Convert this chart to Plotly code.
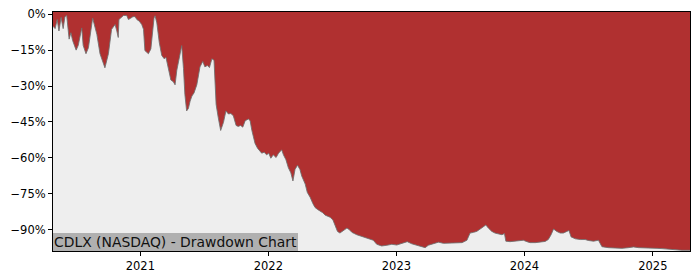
import plotly.graph_objects as go

# Drawdown series
dates = [
    "2020-04-27","2020-05-03","2020-05-09","2020-05-14","2020-05-20","2020-05-26","2020-05-31","2020-06-05","2020-06-12","2020-06-17",
    "2020-06-22","2020-07-02","2020-07-08","2020-07-13","2020-07-18","2020-07-22","2020-07-30","2020-08-06","2020-08-13","2020-08-18",
    "2020-08-30","2020-09-08","2020-09-22","2020-10-02","2020-10-11","2020-10-21","2020-10-26","2020-10-30","2020-11-01","2020-11-09",
    "2020-11-14","2020-11-23","2020-11-28","2020-12-05","2020-12-11","2020-12-17","2020-12-22","2020-12-29","2021-01-05","2021-01-10",
    "2021-01-14","2021-01-24","2021-01-31",
    "2021-02-09","2021-02-12","2021-02-17","2021-02-24","2021-03-03","2021-03-10","2021-03-15","2021-03-22","2021-03-29","2021-04-05",
    "2021-04-10","2021-04-15","2021-04-19","2021-04-26","2021-04-29","2021-05-04","2021-05-08","2021-05-13","2021-05-18","2021-05-23",
    "2021-05-28","2021-06-03","2021-06-11","2021-06-20","2021-06-28","2021-07-04","2021-07-11","2021-07-17","2021-07-24","2021-07-30",
    "2021-08-05","2021-08-11","2021-08-18","2021-08-26","2021-09-02","2021-09-09","2021-09-16","2021-09-23","2021-10-01","2021-10-07",
    "2021-10-14","2021-10-20","2021-10-27","2021-11-05","2021-11-10","2021-11-15",
    "2021-11-24","2021-12-01","2021-12-06","2021-12-13","2021-12-20","2021-12-27","2022-01-02","2022-01-08","2022-01-15","2022-01-23",
    "2022-01-30","2022-02-08","2022-02-13","2022-02-20","2022-02-27","2022-03-06","2022-03-12","2022-03-18","2022-03-25","2022-04-01",
    "2022-04-06","2022-04-16","2022-04-22","2022-04-30","2022-05-08","2022-05-14","2022-05-21","2022-05-28","2022-06-05","2022-06-12",
    "2022-06-18","2022-06-26","2022-07-04","2022-07-10","2022-07-17","2022-07-24","2022-08-03","2022-08-13","2022-08-20",
    "2022-08-27","2022-09-10","2022-09-29","2022-10-13","2022-10-27","2022-11-06","2022-11-20","2022-12-05","2022-12-19","2023-01-02",
    "2023-01-21","2023-02-01","2023-02-14","2023-02-28","2023-03-14","2023-03-24","2023-04-02","2023-04-17","2023-05-01","2023-05-15",
    "2023-06-03","2023-06-22","2023-07-07","2023-07-21","2023-07-30","2023-08-09","2023-08-18","2023-08-28","2023-09-06","2023-09-13",
    "2023-09-20","2023-09-30","2023-10-09","2023-10-19","2023-10-29","2023-11-05","2023-11-09","2023-11-21","2023-12-05","2023-12-20",
    "2023-12-29","2024-01-08","2024-01-17","2024-02-01","2024-02-15","2024-02-29","2024-03-09","2024-03-17","2024-03-24","2024-04-02",
    "2024-04-12","2024-04-21","2024-05-01","2024-05-07","2024-05-13","2024-05-25","2024-06-08","2024-06-22","2024-07-01","2024-07-16",
    "2024-07-30","2024-08-04","2024-08-09","2024-08-27","2024-09-16","2024-10-05","2024-10-24","2024-11-07","2024-11-21","2024-12-10",
    "2024-12-24","2025-01-13","2025-01-27","2025-02-15","2025-03-06","2025-03-25","2025-04-17",
]
drawdown = [
    -5.0, -6.0, -2.2, -7.0, -1.3, -6.0, -1.0, -0.5, -10.4, -7.7,
    -11.0, -15.0, -13.0, -9.0, -5.7, -13.0, -16.5, -14.0, -5.7, -1.6,
    -8.4, -16.5, -22.4, -16.5, -6.3, -4.3, -7.0, -9.7, -2.2, -1.0,
    -0.5, -0.5, -2.2, -1.6, -1.0, -1.0, -2.2, -2.9, -4.3, -6.3,
    -15.2, -16.5, -14.5,
    -1.6, -0.6, -3.6, -11.8, -17.2, -18.6, -18.0, -23.4, -27.5, -28.2,
    -29.5, -23.4, -20.0, -13.8, -13.1, -22.7, -33.6, -40.4, -39.4, -36.3,
    -34.2, -32.9, -29.5, -22.0, -19.7, -22.0, -21.4, -22.3, -18.6, -19.2,
    -37.7, -43.1, -48.6, -45.2, -40.4, -41.7, -41.5, -42.4, -46.5, -46.9,
    -46.5, -47.2, -44.5, -43.8, -44.5, -48.6,
    -54.0, -56.0, -56.7, -58.1, -57.7, -58.8, -58.1, -60.2, -58.8, -59.9,
    -58.1, -56.7, -58.8, -60.8, -64.2, -66.3, -69.7, -64.9, -63.1, -64.9,
    -67.6, -71.0, -74.5, -76.5, -79.2, -80.8, -81.6, -82.2, -83.0, -84.0,
    -84.4, -84.9, -86.0, -88.1, -90.8, -91.5, -90.4, -89.4, -90.1,
    -91.2, -92.2, -93.1, -93.9, -94.5, -96.2, -96.9, -96.6, -96.2, -96.5,
    -95.8, -95.1, -96.0, -96.6, -97.3, -97.6, -96.6, -95.8, -95.3, -95.8,
    -95.8, -95.8, -95.5, -94.5, -91.5, -91.2, -90.8, -89.8, -88.8, -88.1,
    -89.4, -90.8, -91.5, -91.7, -92.2, -91.7, -94.9, -95.1, -94.9, -94.6,
    -94.5, -95.1, -95.5, -95.5, -95.1, -95.0, -94.2, -92.2, -89.8, -90.8,
    -91.5, -91.5, -90.8, -90.4, -93.1, -93.9, -94.2, -94.2, -94.6, -94.9,
    -94.5, -96.2, -97.2, -97.6, -97.9, -97.9, -97.6, -97.3, -97.6, -97.6,
    -97.7, -97.9, -98.0, -98.3, -98.6, -98.7, -98.7,
]

y_floor = -100.0
y_range = [-99.0, 0.95]
y_tickvals = [0, -15, -30, -45, -60, -75, -90]
y_ticktext = ["0%", "\u221215%", "\u221230%", "\u221245%", "\u221260%", "\u221275%", "\u221290%"]
x_tickvals = ["2021-01-01", "2022-01-01", "2023-01-01", "2024-01-01", "2025-01-01"]
x_ticktext = ["2021", "2022", "2023", "2024", "2025"]
title_text = "CDLX (NASDAQ) - Drawdown Chart"

RED = "#b03030"
GREY_BG = "#eeeeee"
FONT = "DejaVu Sans"

fig = go.Figure()
fig.add_trace(go.Scatter(
    x=dates, y=[y_floor] * len(dates), mode="lines",
    line=dict(width=0), hoverinfo="skip", showlegend=False,
))
fig.add_trace(go.Scatter(
    x=dates, y=drawdown, mode="lines", fill="tonexty", fillcolor=GREY_BG,
    line=dict(color="rgba(110,110,110,0.85)", width=1), showlegend=False,
))

fig.update_layout(
    width=700, height=280,
    margin=dict(l=53, r=10, t=7, b=28),
    paper_bgcolor="white", plot_bgcolor=RED,
    font=dict(family=FONT, size=11.5, color="black"),
    showlegend=False,
)
fig.update_xaxes(
    type="date", range=[dates[0], dates[-1]],
    tickvals=x_tickvals, ticktext=x_ticktext,
    ticks="outside", ticklen=4, tickwidth=1, tickcolor="black",
    showline=True, linecolor="black", linewidth=1, mirror=True,
    showgrid=False, zeroline=False,
)
fig.update_yaxes(
    range=y_range, tickvals=y_tickvals, ticktext=y_ticktext,
    ticks="outside", ticklen=4, tickwidth=1, tickcolor="black",
    showline=True, linecolor="black", linewidth=1, mirror=True,
    showgrid=False, zeroline=False,
)
fig.add_annotation(
    text=title_text, xref="paper", yref="paper", x=0, y=0,
    xanchor="left", yanchor="bottom", showarrow=False,
    font=dict(family=FONT, size=13.9, color="#111111"),
    bgcolor="#b0b0b0", borderpad=1, borderwidth=0,
)

fig.write_html("out.html")
